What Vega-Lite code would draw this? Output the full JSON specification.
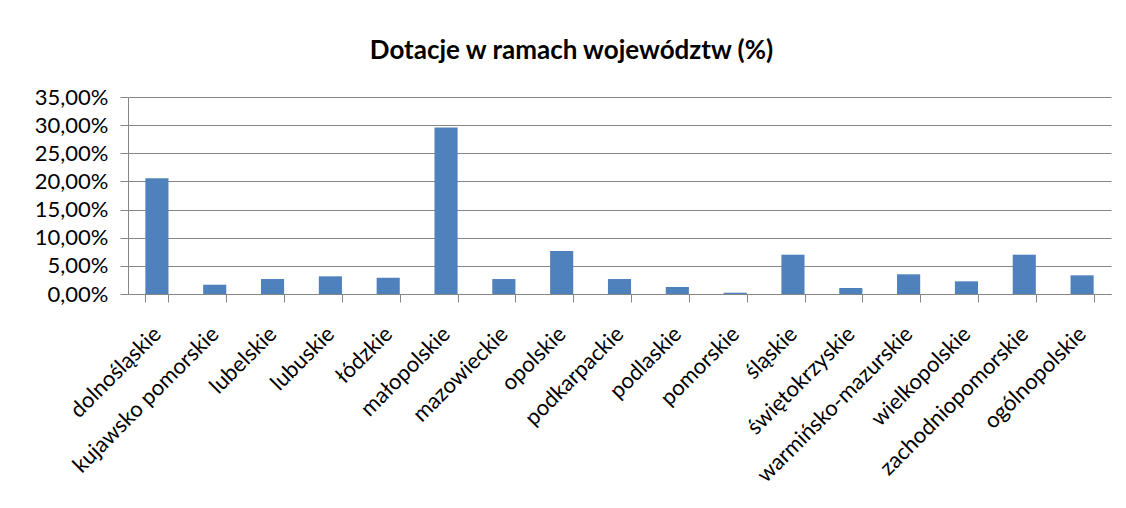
{
  "$schema": "https://vega.github.io/schema/vega-lite/v6.json",
  "width": 983,
  "height": 197,
  "autosize": "none",
  "padding": {"left": 128, "top": 97, "right": 15, "bottom": 214},
  "background": "white",
  "title": {
    "text": "Dotacje w ramach województw (%)",
    "font": "Lato",
    "fontSize": 26,
    "fontWeight": "bold",
    "color": "#000000",
    "anchor": "middle",
    "dx": -48,
    "offset": 22
  },
  "data": {
    "values": [
      {"wojewodztwo": "dolnośląskie", "dotacje": 0.2055},
      {"wojewodztwo": "kujawsko pomorskie", "dotacje": 0.0165},
      {"wojewodztwo": "lubelskie", "dotacje": 0.0266},
      {"wojewodztwo": "lubuskie", "dotacje": 0.0314},
      {"wojewodztwo": "łódzkie", "dotacje": 0.029},
      {"wojewodztwo": "małopolskie", "dotacje": 0.296},
      {"wojewodztwo": "mazowieckie", "dotacje": 0.0266},
      {"wojewodztwo": "opolskie", "dotacje": 0.0764},
      {"wojewodztwo": "podkarpackie", "dotacje": 0.0266},
      {"wojewodztwo": "podlaskie", "dotacje": 0.0124},
      {"wojewodztwo": "pomorskie", "dotacje": 0.0023},
      {"wojewodztwo": "śląskie", "dotacje": 0.0698},
      {"wojewodztwo": "świętokrzyskie", "dotacje": 0.0107},
      {"wojewodztwo": "warmińsko-mazurskie", "dotacje": 0.035},
      {"wojewodztwo": "wielkopolskie", "dotacje": 0.0225},
      {"wojewodztwo": "zachodniopomorskie", "dotacje": 0.0698},
      {"wojewodztwo": "ogólnopolskie", "dotacje": 0.0332}
    ]
  },
  "mark": {"type": "bar", "color": "#4F81BD"},
  "encoding": {
    "x": {
      "field": "wojewodztwo",
      "type": "nominal",
      "sort": null,
      "title": null,
      "scale": {"paddingInner": 0.6, "paddingOuter": 0.3},
      "axis": {
        "labelAngle": -45,
        "labelAlign": "right",
        "labelBaseline": "middle",
        "labelPadding": 28,
        "tickBand": "extent",
        "tickSize": 8,
        "tickColor": "#868686",
        "domainColor": "#868686",
        "labelFont": "Lato",
        "labelFontSize": 22,
        "labelColor": "#000000",
        "labelOverlap": false,
        "labelLimit": 0
      }
    },
    "y": {
      "field": "dotacje",
      "type": "quantitative",
      "title": null,
      "scale": {"domain": [0, 0.35], "nice": false},
      "axis": {
        "values": [0, 0.05, 0.1, 0.15, 0.2, 0.25, 0.3, 0.35],
        "format": ".2%",
        "grid": true,
        "gridColor": "#868686",
        "tickColor": "#868686",
        "domainColor": "#868686",
        "tickSize": 8,
        "labelPadding": 12,
        "labelFont": "Lato",
        "labelFontSize": 22,
        "labelColor": "#000000"
      }
    }
  },
  "config": {
    "locale": {
      "number": {"decimal": ",", "thousands": " ", "grouping": [3], "currency": ["", " zł"]}
    },
    "view": {"stroke": null},
    "axis": {"gridWidth": 1, "domainWidth": 1, "tickWidth": 1}
  }
}
